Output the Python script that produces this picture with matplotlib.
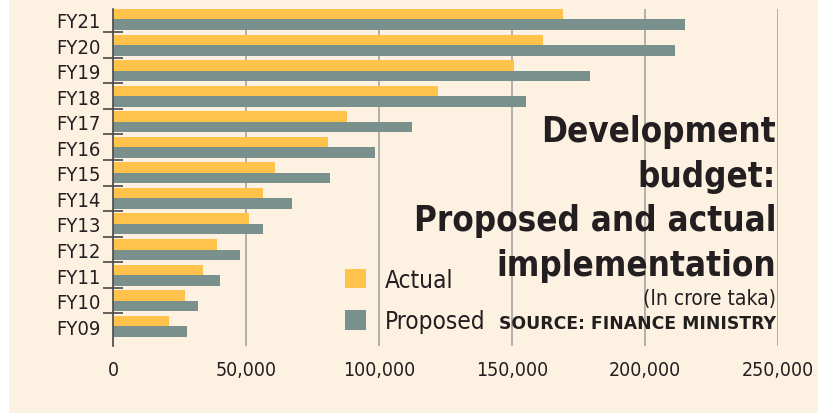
import matplotlib
matplotlib.use("Agg")
import matplotlib.pyplot as plt
from matplotlib.patches import Patch, Rectangle
from matplotlib.ticker import FuncFormatter

# values in crore taka
years = ["FY09", "FY10", "FY11", "FY12", "FY13", "FY14", "FY15",
         "FY16", "FY17", "FY18", "FY19", "FY20", "FY21"]
actual = [21000, 27000, 34000, 39000, 51000, 56600, 61100,
          81000, 88100, 122300, 150800, 161700, 169400]
proposed = [27800, 31900, 40100, 47600, 56600, 67500, 81800,
            98600, 112500, 155300, 179300, 211200, 215000]
x_ticks = [0, 50000, 100000, 150000, 200000, 250000]

BG = "#FDF1E2"
ACTUAL_COLOR = "#FFC24B"
PROPOSED_COLOR = "#7A908C"
TEXT_COLOR = "#231F20"

plt.rcParams["font.family"] = ["DejaVu Sans"]
plt.rcParams["font.stretch"] = "condensed"

fig = plt.figure(figsize=(8.18, 4.14), dpi=100)
fig.patch.set_facecolor(BG)
# white strip on the left edge
fig.patches.append(Rectangle((0, 0), 9 / 818, 1, transform=fig.transFigure,
                             facecolor="white", edgecolor="none", zorder=0))

ax = fig.add_axes([113 / 818, 1 - 346.7 / 414, (777.7 - 113) / 818, 336.7 / 414])
ax.set_facecolor(BG)

pos = list(range(len(years)))
bar_h = 0.41
ax.barh([p + bar_h / 2 for p in pos], actual, height=bar_h,
        color=ACTUAL_COLOR, label="Actual", zorder=3)
ax.barh([p - bar_h / 2 for p in pos], proposed, height=bar_h,
        color=PROPOSED_COLOR, label="Proposed", zorder=3)

ax.set_xlim(0, 250000)
ax.set_ylim(-0.763, 12.41)

ax.set_xticks(x_ticks)
ax.xaxis.set_major_formatter(FuncFormatter(lambda v, _: f"{int(v):,}"))
ax.tick_params(axis="x", length=0, pad=10, labelsize=14, labelcolor=TEXT_COLOR)
ax.grid(axis="x", color="#ADAAA7", linewidth=1.3, zorder=0)

# category boundaries get the ticks, category centres get the labels
ax.set_yticks([p + 0.5 for p in pos[:-1]])
ax.set_yticklabels([])
ax.tick_params(axis="y", which="major", direction="inout", length=14.4,
               width=1.1, color="#3A3A3A")
ax.set_yticks(pos, minor=True)
ax.set_yticklabels(years, minor=True)
ax.tick_params(axis="y", which="minor", length=0, pad=9, labelsize=14.5,
               labelcolor=TEXT_COLOR)

for side in ["top", "right", "bottom"]:
    ax.spines[side].set_visible(False)
ax.spines["left"].set_color("#4A4A4A")
ax.spines["left"].set_linewidth(1.2)
ax.spines["left"].set_zorder(4)

handles = [Patch(facecolor=ACTUAL_COLOR), Patch(facecolor=PROPOSED_COLOR)]
ax.legend(handles, ["Actual", "Proposed"], loc="upper left",
          bbox_to_anchor=(345 / 818, 1 - 269 / 414), bbox_transform=fig.transFigure,
          frameon=False, fontsize=17.5, handlelength=0.87, handleheight=0.87,
          handletextpad=0.78, labelspacing=0.72, borderpad=0, borderaxespad=0,
          labelcolor=TEXT_COLOR)

title_lines = ["Development", "budget:", "Proposed and actual", "implementation"]
baselines = [142, 187, 231, 276]
for line, yb in zip(title_lines, baselines):
    fig.text(776 / 818, 1 - yb / 414, line, ha="right", va="baseline",
             fontsize=25, fontweight="bold", color=TEXT_COLOR, zorder=5)

fig.text(776 / 818, 1 - 305 / 414, "(In crore taka)", ha="right", va="baseline",
         fontsize=15, color=TEXT_COLOR)
fig.text(776 / 818, 1 - 329 / 414, "SOURCE: FINANCE MINISTRY", ha="right",
         va="baseline", fontsize=12.4, fontweight="bold", color=TEXT_COLOR,
         stretch="normal")

fig.savefig("out.png", dpi=100, facecolor=BG)
